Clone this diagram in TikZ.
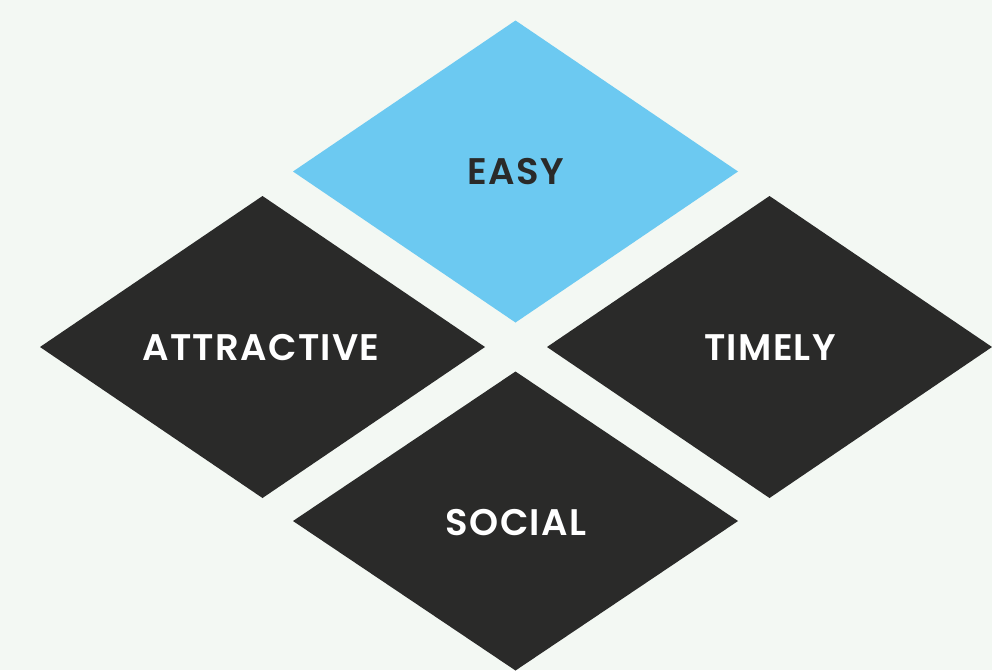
\documentclass[tikz,border=0pt]{standalone}
\usepackage{fontspec}
\setmainfont{Poppins}[UprightFont=* SemiBold, BoldFont=* Bold]
\definecolor{bg}{HTML}{F3F8F3}
\definecolor{skyblue}{HTML}{6CC9F1}
\definecolor{darkgrey}{HTML}{2A2A29}
\begin{document}
\begin{tikzpicture}[x=1pt,y=-1pt,
  lbl/.style={font=\fontsize{37}{42}\selectfont\addfontfeatures{LetterSpace=3.5}, inner sep=0pt},
  darklbl/.style={lbl, text=white},
  bluelbl/.style={lbl, text=darkgrey}]
\fill[bg] (0,0) rectangle (992,670);
\useasboundingbox (0,0) rectangle (992,670);
% diamonds
\newcommand{\mydiamond}[4]{\fill[#4] (#1,#2-#3) -- (#1+222.5,#2) -- (#1,#2+#3) -- (#1-222.5,#2) -- cycle;}
\mydiamond{515.5}{171.5}{151}{skyblue}
\mydiamond{262.5}{347}{151}{darkgrey}
\mydiamond{769.5}{347}{151}{darkgrey}
\mydiamond{515.5}{521}{149.5}{darkgrey}
\node[bluelbl] (easy) at (515.5,172) {EASY};
\node[darklbl] (attractive) at (261,348) {ATTRACTIVE};
\node[darklbl] (timely) at (770,348) {TIMELY};
\node[darklbl] (social) at (516,523) {SOCIAL};
\end{tikzpicture}
\end{document}
